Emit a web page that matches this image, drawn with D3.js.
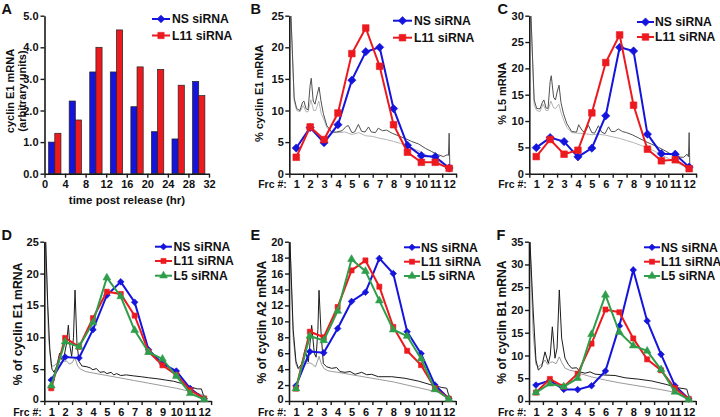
<!DOCTYPE html>
<html><head><meta charset="utf-8">
<script src="https://cdn.jsdelivr.net/npm/d3@7"></script>
<style>body{margin:0;background:#fff}svg{display:block}</style>
</head><body><svg id="c" width="720" height="417"></svg>
<script>
// ---------------- DATA ----------------
const timeHr = [2, 6, 10, 14, 18, 22, 26, 30];
const A_NS  = [1.0, 2.3, 3.22, 3.22, 2.12, 1.33, 1.1, 2.92];
const A_L11 = [1.28, 1.7, 4.0, 4.55, 3.38, 3.3, 2.8, 2.47];
const timeTicks = [0, 4, 8, 12, 16, 20, 24, 28, 32];
const ticksA = [0, 1, 2, 3, 4, 5];

const fractions = [1, 2, 3, 4, 5, 6, 7, 8, 9, 10, 11, 12];
const B_NS  = [4.06, 7.3, 4.9, 7.75, 14.8, 19.3, 20.0, 10.3, 4.5, 2.85, 2.7, 0.9];
const B_L11 = [2.6, 7.4, 5.4, 9.6, 19.0, 23.05, 17.0, 7.75, 3.4, 1.8, 1.8, 0.85];
const C_NS  = [4.95, 6.85, 6.1, 3.2, 4.85, 11.0, 24.0, 23.3, 7.5, 3.8, 3.7, 1.25];
const C_L11 = [3.25, 6.5, 3.7, 4.45, 11.55, 21.1, 26.35, 13.0, 4.65, 2.45, 2.65, 0.95];
const D_NS  = [3.3, 6.9, 6.75, 11.2, 16.6, 18.7, 15.5, 8.05, 5.85, 4.7, 1.95, 0.35];
const D_L11 = [2.0, 9.9, 8.5, 13.0, 17.15, 16.8, 13.4, 7.75, 5.6, 4.1, 1.7, 0.4];
const D_L5  = [2.4, 9.3, 8.5, 12.3, 19.35, 16.4, 11.1, 7.65, 6.6, 3.9, 1.2, 0.25];
const E_NS  = [1.9, 6.2, 6.05, 9.1, 12.5, 13.65, 17.9, 16.0, 8.7, 5.95, 2.0, 0.3];
const E_L11 = [1.55, 8.7, 8.0, 11.8, 16.4, 17.65, 14.35, 9.3, 6.3, 4.5, 1.6, 0.3];
const E_L5  = [1.55, 8.15, 7.6, 11.3, 17.8, 16.3, 12.6, 8.95, 8.15, 5.3, 1.45, 0.25];
const F_NS  = [3.5, 4.5, 2.55, 2.5, 3.35, 6.6, 16.5, 28.8, 17.6, 10.25, 3.35, 0.45];
const F_L11 = [1.85, 4.85, 3.15, 6.0, 12.6, 20.1, 19.5, 13.75, 9.15, 6.75, 2.8, 0.45];
const F_L5  = [1.85, 3.8, 3.15, 5.0, 14.65, 23.3, 15.1, 12.15, 11.0, 6.9, 2.0, 0.3];

const ticksB = [0, 5, 10, 15, 20, 25];
const ticksC = [0, 5, 10, 15, 20, 25, 30];
const ticksD = [0, 5, 10, 15, 20, 25];
const ticksE = [0, 2, 4, 6, 8, 10, 12, 14, 16, 18, 20];
const ticksF = [0, 5, 10, 15, 20, 25, 30, 35];

const seriesNames = ["NS siRNA", "L11 siRNA", "L5 siRNA"];

// absorbance (gradient) profiles: [fraction, value]
const B_dark = [[0.62,25],[0.85,12.0],[1.03,10.3],[1.27,10.0],[1.45,11.3],[1.55,11.5],[1.7,10.3],[1.85,10.1],[2.0,14.0],[2.08,15.1],[2.22,11.5],[2.35,11.0],[2.5,12.5],[2.64,13.7],[2.78,11.5],[2.95,9.5],[3.2,7.6],[3.55,6.6],[3.9,6.6],[4.3,6.8],[4.6,7.5],[4.75,7.6],[5.0,6.5],[5.2,6.6],[5.47,7.8],[5.7,6.7],[5.95,6.6],[6.2,7.4],[6.4,6.6],[6.7,6.5],[6.9,7.2],[7.2,6.8],[7.5,6.9],[7.9,6.4],[8.35,6.0],[8.8,5.6],[9.3,5.1],[9.8,4.7],[10.3,4.0],[10.75,3.5],[11.2,3.0],[11.6,2.7],[11.85,3.0],[11.95,2.9],[12.0,6.4],[12.05,1.0],[12.08,0.3]];
const B_light = [[0.62,25],[0.85,11.5],[1.03,10.0],[1.27,9.8],[1.5,10.8],[1.7,9.8],[1.85,9.8],[2.05,11.7],[2.25,10.0],[2.4,10.0],[2.62,11.5],[2.8,9.5],[3.0,8.5],[3.2,7.3],[3.55,6.5],[4.0,6.5],[4.5,6.6],[5.0,6.2],[5.5,6.5],[6.0,6.0],[6.5,5.9],[7.0,5.6],[7.5,5.4],[8.0,5.1],[8.5,4.8],[9.0,4.4],[9.5,3.9],[10.0,3.4],[10.5,2.8],[11.0,2.2],[11.5,1.6],[11.9,1.1],[12.05,0.6]];
const C_dark = [[0.62,30],[0.85,14],[1.03,12.4],[1.27,12.3],[1.45,13.6],[1.55,14.0],[1.7,12.5],[1.85,12.4],[2.0,17.5],[2.08,18.6],[2.25,14.5],[2.38,14.0],[2.5,15.5],[2.64,16.8],[2.78,13.5],[2.95,11.5],[3.2,9.5],[3.55,8.0],[3.9,7.9],[4.05,9.3],[4.3,8.2],[4.5,7.8],[4.75,9.2],[5.0,7.8],[5.2,7.7],[5.47,9.1],[5.7,7.9],[5.95,7.6],[6.2,8.9],[6.4,8.0],[6.65,8.0],[6.9,8.5],[7.2,8.0],[7.5,7.8],[7.9,7.4],[8.35,6.8],[8.8,6.2],[9.3,5.6],[9.8,5.0],[10.3,4.3],[10.75,3.6],[11.2,3.2],[11.6,3.1],[11.85,3.7],[11.95,3.2],[12.0,7.8],[12.05,1.2],[12.08,0.4]];
const C_light = [[0.62,30],[0.85,13],[1.03,12.0],[1.27,11.8],[1.5,13.2],[1.7,12.0],[1.85,12.0],[2.05,13.8],[2.25,12.5],[2.4,12.4],[2.62,13.2],[2.8,11.5],[3.0,10.0],[3.2,8.8],[3.55,7.8],[4.0,7.7],[4.5,7.6],[5.0,7.4],[5.5,7.5],[6.0,7.3],[6.5,7.0],[7.0,6.7],[7.5,6.3],[8.0,5.9],[8.5,5.4],[9.0,4.9],[9.5,4.3],[10.0,3.6],[10.5,2.9],[11.0,2.2],[11.5,1.6],[11.9,1.1],[12.05,0.7]];
const D_dark = [[0.6,25],[0.75,15],[0.9,8],[1.05,5],[1.2,4.5],[1.4,5.5],[1.6,7.5],[1.75,6.5],[1.9,6.8],[2.1,9],[2.23,11.9],[2.35,8.5],[2.47,7.0],[2.6,10],[2.71,17.4],[2.85,9],[3.0,6.2],[3.2,5.5],[3.5,5.4],[3.8,5.2],[4.0,4.9],[4.25,5.1],[4.5,4.5],[4.8,4.6],[5.0,4.3],[5.3,4.5],[5.5,4.1],[5.7,4.3],[6.0,4.0],[6.4,4.1],[6.9,3.95],[7.5,3.8],[8.0,3.65],[8.6,3.5],[9.2,3.3],[9.8,3.1],[10.3,2.8],[10.75,2.5],[11.2,2.1],[11.5,1.9],[11.8,1.9],[11.95,0.9],[12.05,0.3]];
const D_light = [[0.6,25],[0.8,10],[1.0,5.5],[1.2,5.5],[1.5,6.2],[1.7,6.0],[1.9,6.2],[2.1,6.3],[2.3,5.8],[2.5,6.0],[2.7,6.8],[2.9,5.5],[3.1,5.0],[3.5,4.6],[4.0,4.4],[5.0,4.0],[6.0,3.6],[7.0,3.2],[8.0,2.8],[9.0,2.4],[10.0,2.0],[11.0,1.5],[11.7,1.1],[12.0,0.8]];
const E_dark = [[0.57,20],[0.8,9],[1.0,5],[1.17,4.1],[1.4,4.6],[1.53,5.4],[1.65,6.4],[1.89,4.9],[2.13,9.5],[2.32,6.0],[2.45,5.5],[2.58,9],[2.66,13.9],[2.8,8.7],[2.97,4.7],[3.21,4.3],[3.57,4.1],[3.93,4.2],[4.17,3.7],[4.53,3.6],[4.89,3.7],[5.25,3.35],[5.73,3.6],[6.09,3.3],[6.45,3.35],[6.93,3.05],[7.89,3.05],[8.85,2.85],[9.81,2.5],[10.77,2.0],[11.49,1.7],[11.85,1.6],[11.97,0.85],[12.09,0.3]];
const E_light = [[0.57,20],[0.8,8],[1.0,4.6],[1.17,4.0],[1.4,4.3],[1.6,5.0],[1.8,4.7],[2.0,4.8],[2.2,4.6],[2.4,4.3],[2.55,5.0],[2.66,5.6],[2.8,4.8],[3.0,4.1],[3.3,3.8],[3.6,3.7],[4.0,3.6],[5.0,3.3],[6.0,3.0],[7.0,2.7],[8.0,2.4],[9.0,2.0],[10.0,1.6],[11.0,1.2],[11.6,1.0],[12.0,0.5]];
const F_dark = [[0.57,35],[0.8,20],[1.0,9],[1.17,6.8],[1.41,7.5],[1.65,10.8],[1.89,8.3],[2.03,10.1],[2.18,16.3],[2.37,9.4],[2.52,11.6],[2.68,24.4],[2.85,13.8],[3.09,9.4],[3.33,8.05],[3.57,7.2],[3.93,7.3],[4.17,6.4],[4.53,6.1],[4.89,6.4],[5.25,5.9],[5.97,5.7],[6.69,5.6],[7.41,5.1],[8.37,4.8],[9.33,4.4],[10.29,3.7],[11.25,2.9],[11.85,2.6],[11.97,1.3],[12.09,0.4]];
const F_light = [[0.57,35],[0.8,15],[1.0,8],[1.17,7.5],[1.45,8.2],[1.65,9.0],[1.85,8.0],[2.05,8.5],[2.2,8.6],[2.45,8.2],[2.68,9.7],[2.85,8.5],[3.1,7.2],[3.4,6.8],[3.8,6.5],[4.2,6.0],[5.0,5.3],[6.0,4.6],[7.0,4.0],[8.0,3.5],[9.0,3.0],[10.0,2.5],[11.0,1.9],[11.6,1.5],[12.0,0.7]];

// ---------------- STYLE / LAYOUT ----------------
const FONT = '"Liberation Sans", Arial, Helvetica, sans-serif';
const COLORS = ["#1414dc", "#ec1a1f", "#2f9e4a"];
const SYMS = ["diamond", "square", "triangle"];
const AXC = "#1a1a1a";
const svg = d3.select("#c");

function styleAxis(g, fs) {
  g.select(".domain").attr("stroke", AXC).attr("stroke-width", 1.6);
  g.selectAll(".tick line").attr("stroke", AXC).attr("stroke-width", 1.4);
  g.selectAll("text").attr("font-family", FONT).attr("font-weight", "bold")
    .attr("font-size", fs || 11).attr("fill", "#111");
}
function symPath(type, size) {
  if (type === "triangle") return d3.symbol(d3.symbolTriangle, size)();
  return d3.symbol(d3.symbolSquare, size)();
}
function drawMarker(g, type, x, y, sz, color) {
  const rot = type === "diamond" ? " rotate(45)" : "";
  g.append("path").attr("d", symPath(type, sz[type]))
    .attr("transform", `translate(${x},${y})${rot}`)
    .attr("fill", color).attr("stroke", color).attr("stroke-width", 0.6);
}
function legend(g, L, n, sz) {
  for (let i = 0; i < n; i++) {
    const y = L.ys[i];
    g.append("line").attr("x1", L.x0).attr("x2", L.x1).attr("y1", y).attr("y2", y)
      .attr("stroke", COLORS[i]).attr("stroke-width", 2);
    drawMarker(g, SYMS[i], (L.x0 + L.x1) / 2, y, sz, COLORS[i]);
    g.append("text").attr("x", L.tx).attr("y", y).attr("dy", "0.36em")
      .attr("font-family", FONT).attr("font-weight", "bold").attr("font-size", 12.2)
      .attr("fill", "#111").text(seriesNames[i]);
  }
}
function letter(t, x, y) {
  svg.append("text").attr("x", x).attr("y", y).attr("font-family", FONT)
    .attr("font-weight", "bold").attr("font-size", 14.5).attr("fill", "#111").text(t);
}
function yTitle(lines, x, y, fs) {
  lines.forEach((s, i) => {
    svg.append("text").attr("transform", `translate(${x[i]},${y}) rotate(-90)`)
      .attr("text-anchor", "middle").attr("font-family", FONT).attr("font-weight", "bold")
      .attr("font-size", fs).attr("fill", "#111").text(s);
  });
}

// ---------------- PANEL A ----------------
(function () {
  const g = svg.append("g");
  const x = d3.scaleLinear().domain([0, 32]).range([44.5, 209]);
  const y = d3.scaleLinear().domain([0, 5]).range([173.7, 15.7]);
  const bw = 1.2;
  const groups = timeHr.map((t, i) => ({ t, ns: A_NS[i], l11: A_L11[i] }));
  g.selectAll(".bns").data(groups).join("rect")
    .attr("x", d => x(d.t - bw)).attr("width", d => x(d.t) - x(d.t - bw))
    .attr("y", d => y(d.ns)).attr("height", d => y(0) - y(d.ns))
    .attr("fill", COLORS[0]).attr("stroke", "#222").attr("stroke-width", 0.7);
  g.selectAll(".bl").data(groups).join("rect")
    .attr("x", d => x(d.t)).attr("width", d => x(d.t + bw) - x(d.t))
    .attr("y", d => y(d.l11)).attr("height", d => y(0) - y(d.l11))
    .attr("fill", COLORS[1]).attr("stroke", "#222").attr("stroke-width", 0.7);
  const ya = g.append("g").attr("transform", `translate(${x(0)},0)`)
    .call(d3.axisLeft(y).tickValues(ticksA).tickSize(4).tickPadding(2).tickSizeOuter(0));
  styleAxis(ya);
  const xa = g.append("g").attr("transform", `translate(0,${y(0)})`)
    .call(d3.axisBottom(x).tickValues(timeTicks).tickSize(4).tickPadding(3).tickSizeOuter(0));
  styleAxis(xa);
  g.append("text").attr("x", 127).attr("y", 204).attr("text-anchor", "middle")
    .attr("font-family", FONT).attr("font-weight", "bold").attr("font-size", 11.5)
    .attr("fill", "#111").text("time post release (hr)");
  yTitle(["cyclin E1 mRNA", "(arbitrary units)"], [14, 25.5], 91, 11);
  legend(g, { x0: 152, x1: 170, tx: 172, ys: [19, 35.5] }, 2, { diamond: 30, square: 40 });
  letter("A", 1.5, 13.5);
})();

// ---------------- FRACTION PANELS ----------------
const panels = [
  { L: "B", xr: [289.3, 456.1], yr: [173.7, 15.7], ymax: 25, ticks: ticksB, series: [B_NS, B_L11],
    dark: B_dark, light: B_light, darkC: "#505050", lightC: "#b4b4b4",
    title: "% cyclin E1 mRNA", tx: 262.5, ty: 93.5, tfs: 11, lx: 250.5, ly: 14,
    leg: { x0: 393, x1: 412, tx: 414, ys: [20.7, 37.7] }, sz: { diamond: 34, square: 44, triangle: 40 }, lab: 7, zeroDy: "0.32em" },
  { L: "C", xr: [529.3, 696.1], yr: [173.7, 15.7], ymax: 30, ticks: ticksC, series: [C_NS, C_L11],
    dark: C_dark, light: C_light, darkC: "#505050", lightC: "#b4b4b4",
    title: "% L5 mRNA", tx: 506, ty: 93.5, tfs: 11, lx: 497.5, ly: 13.5,
    leg: { x0: 637, x1: 654, tx: 655, ys: [22, 37] }, sz: { diamond: 34, square: 44, triangle: 40 }, lab: 7, zeroDy: "0.32em" },
  { L: "D", xr: [44.3, 211.1], yr: [401, 241.7], ymax: 25, ticks: ticksD, series: [D_NS, D_L11, D_L5],
    dark: D_dark, light: D_light, darkC: "#1c1c1c", lightC: "#9a9a9a",
    title: "% of cyclin E1 mRNA", tx: 22, ty: 324, tfs: 12.2, lx: 1.5, ly: 239.5,
    leg: { x0: 155, x1: 172, tx: 173.5, ys: [246.7, 261, 275.7] }, sz: { diamond: 22, square: 26, triangle: 26 }, lab: 7, zeroDy: "0.12em" },
  { L: "E", xr: [289, 455.8], yr: [401, 241.7], ymax: 20, ticks: ticksE, series: [E_NS, E_L11, E_L5],
    dark: E_dark, light: E_light, darkC: "#1c1c1c", lightC: "#9a9a9a",
    title: "% of cyclin A2 mRNA", tx: 266, ty: 322, tfs: 12.2, lx: 250.5, ly: 240,
    leg: { x0: 404, x1: 420, tx: 421, ys: [247.3, 261.7, 276] }, sz: { diamond: 22, square: 26, triangle: 26 }, lab: 7, zeroDy: "0.12em" },
  { L: "F", xr: [529, 695.8], yr: [401, 241.7], ymax: 35, ticks: ticksF, series: [F_NS, F_L11, F_L5],
    dark: F_dark, light: F_light, darkC: "#1c1c1c", lightC: "#9a9a9a",
    title: "% of cyclin B1 mRNA", tx: 505.5, ty: 322, tfs: 12.2, lx: 496.5, ly: 239.5,
    leg: { x0: 644, x1: 660, tx: 661, ys: [247.3, 261.7, 276] }, sz: { diamond: 22, square: 26, triangle: 26 }, lab: 7, zeroDy: "0.12em" }
];

panels.forEach((P, pi) => {
  const g = svg.append("g");
  const x = d3.scaleLinear().domain([0.5, 12.5]).range(P.xr);
  const y = d3.scaleLinear().domain([0, P.ymax]).range(P.yr);
  const cid = "clip" + pi;
  svg.append("clipPath").attr("id", cid).append("rect")
    .attr("x", P.xr[0]).attr("y", P.yr[1]).attr("width", P.xr[1] - P.xr[0]).attr("height", P.yr[0] - P.yr[1]);
  const tl = d3.line().x(d => x(d[0])).y(d => y(d[1]));
  const tg = g.append("g").attr("clip-path", `url(#${cid})`);
  tg.append("path").attr("d", tl(P.light)).attr("fill", "none").attr("stroke", P.lightC).attr("stroke-width", 1);
  tg.append("path").attr("d", tl(P.dark)).attr("fill", "none").attr("stroke", P.darkC).attr("stroke-width", 1);

  // axes
  const ya = g.append("g").attr("transform", `translate(${P.xr[0]},0)`)
    .call(d3.axisLeft(y).tickValues(P.ticks).tickSize(4).tickPadding(1.5).tickSizeOuter(0));
  styleAxis(ya);
  ya.selectAll(".tick text").filter(d => d === 0).attr("dy", P.zeroDy);
  const bounds = d3.range(0.5, 12.51, 1);
  const xa = g.append("g").attr("transform", `translate(0,${P.yr[0]})`)
    .call(d3.axisBottom(x).tickValues(bounds).tickSize(4).tickFormat("").tickSizeOuter(0));
  xa.selectAll("text").remove();
  styleAxis(xa);
  const xl = g.append("g").attr("transform", `translate(0,${P.yr[0]})`)
    .call(d3.axisBottom(x).tickValues(fractions).tickSize(0).tickPadding(P.lab));
  xl.select(".domain").remove();
  xl.selectAll(".tick line").remove();
  styleAxis(xl, 11);
  g.append("text").attr("x", P.xr[0] - 2.5).attr("y", P.yr[0]).attr("dy", "0.71em")
    .attr("transform", `translate(0,${P.lab + 0.3})`)
    .attr("text-anchor", "end").attr("font-family", FONT).attr("font-weight", "bold")
    .attr("font-size", 10.5).attr("fill", "#111").text("Frc #:");

  // series
  const sl = d3.line().x((d, i) => x(fractions[i])).y(d => y(d));
  P.series.forEach((vals, si) => {
    g.append("path").attr("d", sl(vals)).attr("fill", "none")
      .attr("stroke", COLORS[si]).attr("stroke-width", 2);
    vals.forEach((v, i) => drawMarker(g, SYMS[si], x(fractions[i]), y(v), P.sz, COLORS[si]));
  });

  legend(g, P.leg, P.series.length, P.sz);
  yTitle([P.title], [P.tx], P.ty, P.tfs);
  letter(P.L, P.lx, P.ly);
});
</script></body></html>
